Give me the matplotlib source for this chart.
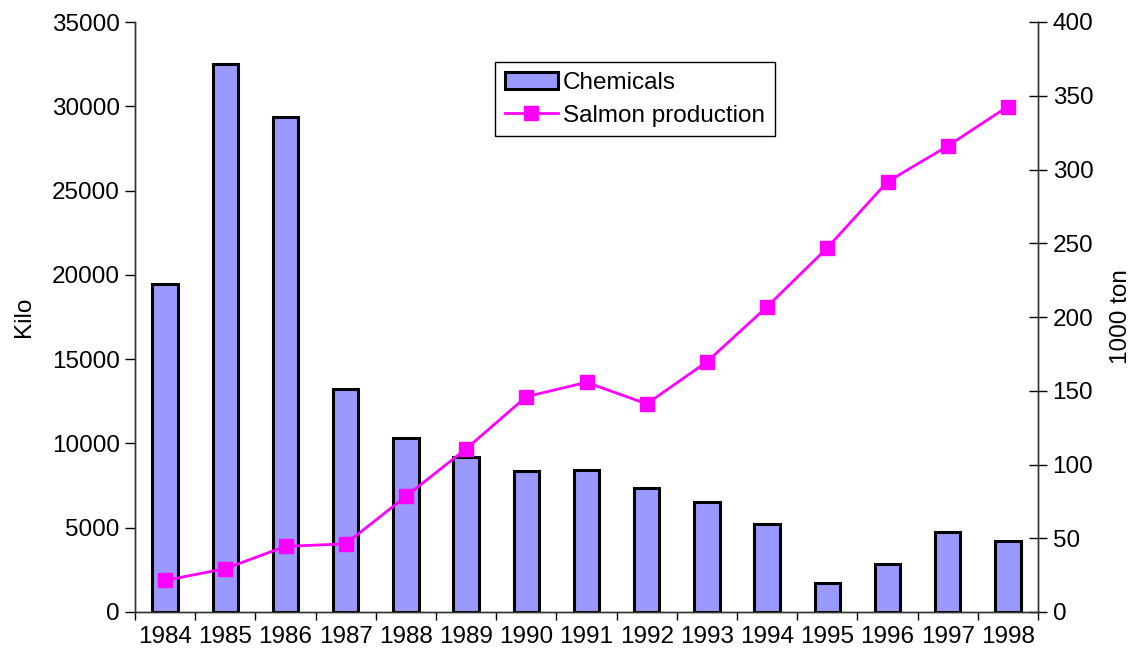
import matplotlib
matplotlib.use("Agg")
import matplotlib.pyplot as plt
import numpy as np

years = ["1984", "1985", "1986", "1987", "1988", "1989", "1990", "1991",
         "1992", "1993", "1994", "1995", "1996", "1997", "1998"]
chemicals = [19450, 32500, 29350, 13200, 10350, 9200, 8350, 8400,
             7350, 6550, 5200, 1750, 2850, 4750, 4200]
salmon = [21.4, 29.4, 44.5, 46.2, 78.4, 110.6, 146, 155.7,
          141.1, 169.6, 207, 246.9, 291.7, 315.9, 342.7]

plt.rcParams['font.family'] = ['Liberation Sans', 'DejaVu Sans']
FS = 17.5

fig = plt.figure(figsize=(11.36, 6.59), dpi=100)
ax = fig.add_axes([135/1136, 1 - 612/659, (1038-135)/1136, (612-22)/659])
ax2 = ax.twinx()

x = np.arange(len(years))
bars = ax.bar(x, chemicals, width=0.42, color='#9999FF', edgecolor='black',
              linewidth=2.2, label='Chemicals', zorder=2)
line, = ax2.plot(x, salmon, color='#FF00FF', lw=2, marker='s', markersize=10,
                 label='Salmon production', zorder=3)

ax.set_xlim(-0.5, len(years) - 0.5)
ax.set_ylim(0, 35000)
ax.set_yticks(np.arange(0, 35001, 5000))
ax2.set_ylim(0, 400)
ax2.set_yticks(np.arange(0, 401, 50))

ax.set_xticks(np.arange(-0.5, len(years), 1.0))
ax.set_xticklabels([])
ax.set_xticks(x, minor=True)
ax.set_xticklabels(years, minor=True, fontsize=FS)
ax.tick_params(axis='x', which='major', direction='out', length=6, width=1)
ax.tick_params(axis='x', which='minor', length=0, pad=10)
ax.tick_params(axis='y', direction='out', length=7, width=1, labelsize=FS, pad=4)
ax2.tick_params(axis='y', direction='inout', length=13, width=1, labelsize=FS, pad=4)

for a in (ax, ax2):
    a.spines['top'].set_visible(False)
    for s in ('left', 'right', 'bottom'):
        a.spines[s].set_linewidth(1)
        a.spines[s].set_color('#333333')

ax.set_ylabel('Kilo', fontsize=FS, labelpad=12)
ax2.set_ylabel('1000 ton', fontsize=FS, labelpad=12)

ax2.set_zorder(ax.get_zorder() + 1)
ax2.patch.set_visible(False)

leg = ax2.legend([bars, line], ['Chemicals', 'Salmon production'],
                 loc='upper left', bbox_to_anchor=((495-135)/903, (612-62)/590),
                 fontsize=FS, frameon=True, fancybox=False, edgecolor='black',
                 framealpha=1, borderpad=0.4, handlelength=2.2, handletextpad=0.2,
                 labelspacing=0.45, borderaxespad=0)
leg.get_frame().set_linewidth(1)

fig.savefig('out.png', dpi=100)
